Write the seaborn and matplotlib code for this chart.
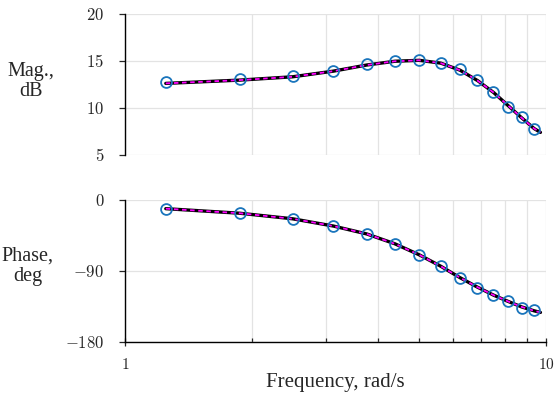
import numpy as np
import pandas as pd
import seaborn as sns
import matplotlib
matplotlib.use("Agg")
import matplotlib.pyplot as plt
from matplotlib.ticker import FixedLocator, NullFormatter

# measured points (markers)
freq = [1.25, 1.875, 2.5, 3.125, 3.75, 4.375, 5.0, 5.625, 6.25, 6.875, 7.5, 8.125, 8.75, 9.375]
mag_db = [12.7, 13.05, 13.35, 13.95, 14.65, 14.95, 15.05, 14.8, 14.1, 12.95, 11.7, 10.1, 9.05, 7.8]
phase_deg = [-11.5, -17.0, -24.0, -33.5, -42.5, -55.5, -69.5, -83.5, -99.0, -111.0, -121.0, -128.0, -137.0, -139.5]

# fitted model curve
fit_freq = [1.25, 1.875, 2.5, 3.125, 3.75, 4.375, 5.0, 5.625, 6.25, 6.875, 7.5, 8.125, 8.75, 9.375, 9.7]
fit_mag = [12.6, 12.95, 13.3, 13.9, 14.55, 14.95, 15.05, 14.75, 14.0, 12.9, 11.65, 10.25, 8.95, 7.8, 7.4]
fit_phase = [-11.0, -16.8, -23.8, -33.0, -43.0, -55.5, -69.5, -84.0, -98.5, -110.5, -120.5, -128.5, -135.5, -140.5, -142.5]

sns.set_style("white")
plt.rcParams["mathtext.fontset"] = "cm"
plt.rcParams["font.family"] = ["Liberation Serif", "DejaVu Serif"]

pts = pd.DataFrame({"freq": freq, "mag": mag_db, "phase": phase_deg})
fit = pd.DataFrame({"freq": fit_freq, "mag": fit_mag, "phase": fit_phase})

fig = plt.figure(figsize=(5.55, 3.98), dpi=100)
ax1 = fig.add_axes([0.2252, 0.6106, 0.7586, 0.3550])
ax2 = fig.add_axes([0.2252, 0.1407, 0.7586, 0.3568])

grid_col = "#e3e3e3"
marker_col = "#1a75bc"

for ax, col, ylim, yticks in [
    (ax1, "mag", (5, 20), [5, 10, 15, 20]),
    (ax2, "phase", (-180, 0), [-180, -90, 0]),
]:
    ax.set_xscale("log")
    ax.set_xlim(1, 10)
    ax.set_ylim(*ylim)
    ax.xaxis.set_major_locator(FixedLocator([1, 10]))
    ax.xaxis.set_minor_locator(FixedLocator([2, 3, 4, 5, 6, 7, 8, 9]))
    ax.xaxis.set_minor_formatter(NullFormatter())
    ax.grid(True, which="both", axis="x", color=grid_col, lw=0.9)
    ax.grid(True, which="major", axis="y", color=grid_col, lw=0.9)
    ax.set_axisbelow(True)

    sns.lineplot(data=fit, x="freq", y=col, ax=ax, color="black", lw=2.4,
                 estimator=None, sort=True)
    sns.lineplot(data=fit, x="freq", y=col, ax=ax, color="#ff00ff", lw=1.3,
                 estimator=None, sort=True, linestyle=(0, (2.5, 2.0)))
    ax.plot(pts["freq"], pts[col], ls="none", marker="o", ms=7.8, mfc="none",
            mec=marker_col, mew=1.3, zorder=5, clip_on=False)

    ax.set_yticks(yticks)
    ax.set_yticklabels([f"${v}$" for v in yticks], fontsize=12)
    ax.tick_params(axis="y", direction="out", length=4, width=0.9, pad=11, left=True)
    for s in ["top", "right"]:
        ax.spines[s].set_visible(False)
    ax.spines["left"].set_linewidth(1.0)
    ax.spines["left"].set_color("black")
    ax.set_xlabel("")
    ax.set_ylabel("")

# top panel: no bottom axis
ax1.spines["bottom"].set_visible(False)
ax1.tick_params(axis="x", which="both", bottom=False, labelbottom=False)

ax2.spines["bottom"].set_linewidth(1.0)
ax2.spines["bottom"].set_color("black")
ax2.set_xticklabels(["$1$", "$10$"], fontsize=11)
ax2.tick_params(axis="x", which="major", direction="inout", length=6, width=0.9, pad=8, bottom=True)
ax2.tick_params(axis="x", which="minor", direction="in", length=3, width=0.9, bottom=True)

fig.text(0.055, 0.795, "Mag.,\ndB", ha="center", va="center", fontsize=14.5, linespacing=1.1)
fig.text(0.050, 0.33, "Phase,\ndeg", ha="center", va="center", fontsize=14.5, linespacing=1.1)
fig.text(0.604, 0.04, "Frequency, rad/s", ha="center", va="center", fontsize=15)

fig.savefig("out.png", dpi=100)
